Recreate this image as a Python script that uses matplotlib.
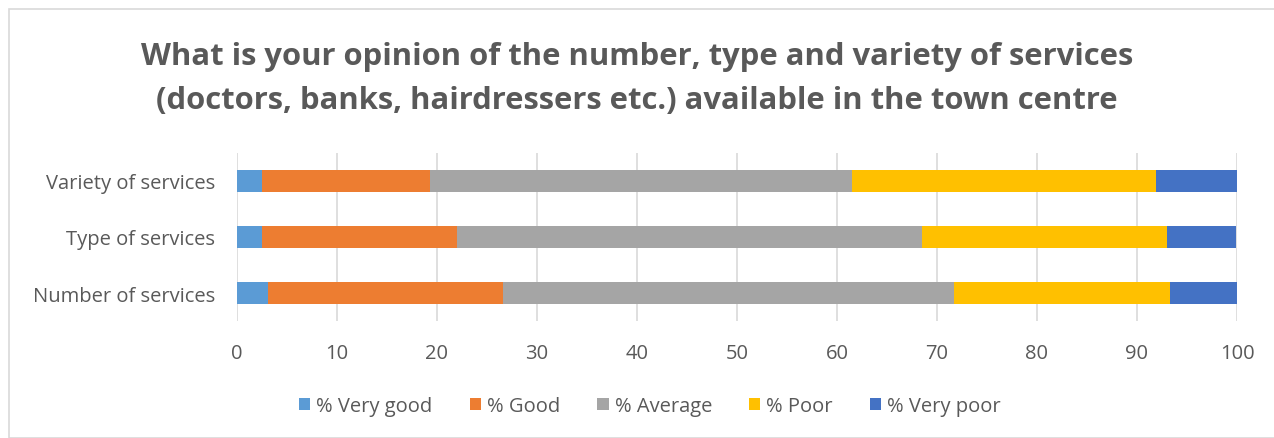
import numpy as np
import matplotlib.pyplot as plt
from matplotlib.patches import Rectangle

categories = ["Number of services", "Type of services", "Variety of services"]
series = ["% Very good", "% Good", "% Average", "% Poor", "% Very poor"]
very_good = [3.1, 2.5, 2.5]
good = [23.5, 19.5, 16.8]
average = [45.1, 46.5, 42.2]
poor = [21.6, 24.5, 30.4]
very_poor = [6.8, 6.9, 8.1]
colors = ["#5B9BD5", "#ED7D31", "#A5A5A5", "#FFC000", "#4472C4"]
xticks = list(range(0, 101, 10))

plt.rcParams['font.family'] = ['Open Sans', 'DejaVu Sans']
txt = "#595959"

W, H = 1274, 439
fig = plt.figure(figsize=(W / 100, H / 100), dpi=100)
fig.patches.append(Rectangle((9 / W, 0), 1.1, 1 - 10 / H, transform=fig.transFigure,
                             fill=False, edgecolor="#D9D9D9", linewidth=1.2))

ax = fig.add_axes([237 / W, 1 - 322 / H, 1000 / W, 168 / H])
y = np.arange(len(categories))
left = np.zeros(len(categories))
for name, vals, c in zip(series, [very_good, good, average, poor, very_poor], colors):
    ax.barh(y, vals, left=left, height=0.4, color=c, label=name, zorder=3)
    left += np.array(vals)

ax.set_xlim(0, 100)
ax.set_ylim(-0.5, 2.5)
ax.set_xticks(xticks)
ax.set_yticks(y)
ax.set_yticklabels(categories)
ax.grid(axis="x", color="#D9D9D9", linewidth=1.2, zorder=0)
for s in ax.spines.values():
    s.set_visible(False)
ax.tick_params(axis="both", length=0, labelsize=14.5, colors=txt)
ax.tick_params(axis="x", pad=16)
ax.tick_params(axis="y", pad=16)

fig.text(0.5, 1 - 57 / H, "What is your opinion of the number, type and variety of services",
         ha="center", va="center", fontsize=22.3, fontweight="bold", color=txt)
fig.text(0.5, 1 - 101 / H, "(doctors, banks, hairdressers etc.) available in the town centre",
         ha="center", va="center", fontsize=22.3, fontweight="bold", color=txt)

leg = fig.legend(loc="center", bbox_to_anchor=(650 / W, 1 - 407 / H), ncol=5, frameon=False,
                 fontsize=14.5, handlelength=0.55, handleheight=0.55, handletextpad=0.3,
                 columnspacing=1.85)
for t in leg.get_texts():
    t.set_color(txt)

fig.savefig("out.png", dpi=100)
